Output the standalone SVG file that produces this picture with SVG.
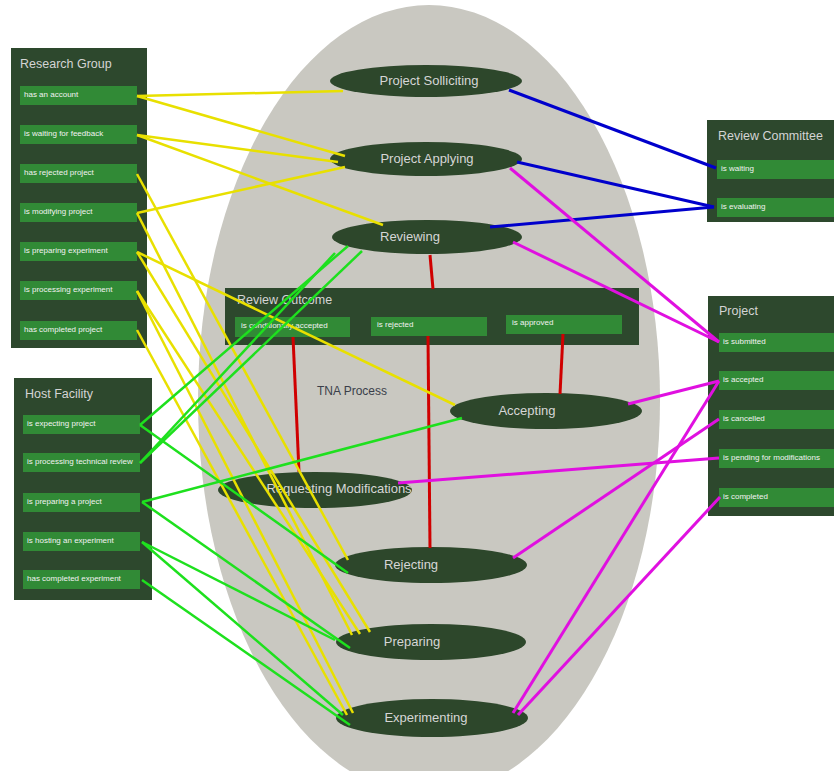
<svg xmlns="http://www.w3.org/2000/svg" width="834" height="771" viewBox="0 0 834 771">
<style>
.panel{fill:#2d482d}
.item{fill:#318a36}
.node{fill:#2d472b}
.title{font-family:"Liberation Sans",Arial,sans-serif;font-size:12.5px;fill:#d4d4d4}
.it{font-family:"Liberation Sans",Arial,sans-serif;font-size:8px;fill:#f2f2f2}
.nl{font-family:"Liberation Sans",Arial,sans-serif;font-size:13px;fill:#d6d6d6;text-anchor:middle}
.y{stroke:#e8e000;stroke-width:2.5;fill:none}
.g{stroke:#1ee01e;stroke-width:2.5;fill:none}
.b{stroke:#0000cc;stroke-width:3;fill:none}
.m{stroke:#e010e0;stroke-width:3;fill:none}
.r{stroke:#d00000;stroke-width:3;fill:none}
</style>
<rect width="834" height="771" fill="#ffffff"/>
<ellipse cx="429" cy="400" rx="231" ry="395" fill="#c9c8c1"/>
<text x="352" y="395" font-family="Liberation Sans,Arial,sans-serif" font-size="12" fill="#3a3f4a" text-anchor="middle">TNA Process</text>

<g id="research-group">
<rect class="panel" x="11" y="48" width="136" height="300"/>
<text class="title" x="20" y="68">Research Group</text>
<rect class="item" x="20" y="86" width="117" height="19"/><text class="it" x="24" y="97">has an account</text>
<rect class="item" x="20" y="125" width="117" height="19"/><text class="it" x="24" y="136">is waiting for feedback</text>
<rect class="item" x="20" y="164" width="117" height="19"/><text class="it" x="24" y="175">has rejected project</text>
<rect class="item" x="20" y="203" width="117" height="19"/><text class="it" x="24" y="214">is modifying project</text>
<rect class="item" x="20" y="242" width="117" height="19"/><text class="it" x="24" y="253">is preparing experiment</text>
<rect class="item" x="20" y="281" width="117" height="19"/><text class="it" x="24" y="292">is processing experiment</text>
<rect class="item" x="20" y="321" width="117" height="19"/><text class="it" x="24" y="332">has completed project</text>
</g>

<g id="host-facility">
<rect class="panel" x="14" y="378" width="138" height="222"/>
<text class="title" x="25" y="398">Host Facility</text>
<rect class="item" x="23" y="415" width="117" height="19"/><text class="it" x="27" y="426">is expecting project</text>
<rect class="item" x="23" y="453" width="117" height="19"/><text class="it" x="27" y="464">is processing technical review</text>
<rect class="item" x="23" y="493" width="117" height="19"/><text class="it" x="27" y="504">is preparing a project</text>
<rect class="item" x="23" y="532" width="117" height="19"/><text class="it" x="27" y="543">is hosting an experiment</text>
<rect class="item" x="23" y="570" width="117" height="19"/><text class="it" x="27" y="581">has completed experiment</text>
</g>

<g id="review-committee">
<rect class="panel" x="707" y="120" width="127" height="102"/>
<text class="title" x="718" y="140">Review Committee</text>
<rect class="item" x="717" y="160" width="117" height="19"/><text class="it" x="721" y="171">is waiting</text>
<rect class="item" x="717" y="198" width="117" height="19"/><text class="it" x="721" y="209">is evaluating</text>
</g>

<g id="project">
<rect class="panel" x="708" y="296" width="126" height="220"/>
<text class="title" x="719" y="315">Project</text>
<rect class="item" x="719" y="333" width="115" height="19"/><text class="it" x="723" y="344">is submitted</text>
<rect class="item" x="719" y="371" width="115" height="19"/><text class="it" x="723" y="382">is accepted</text>
<rect class="item" x="719" y="410" width="115" height="19"/><text class="it" x="723" y="421">is cancelled</text>
<rect class="item" x="719" y="449" width="115" height="19"/><text class="it" x="723" y="460">is pending for modifications</text>
<rect class="item" x="719" y="488" width="115" height="19"/><text class="it" x="723" y="499">is completed</text>
</g>

<g id="review-outcome">
<rect class="panel" x="225" y="288" width="414" height="57"/>
<text class="title" x="237" y="304">Review Outcome</text>
<rect class="item" x="235" y="317" width="115" height="20"/><text class="it" x="241" y="328">is conditionally accepted</text>
<rect class="item" x="371" y="317" width="116" height="19"/><text class="it" x="377" y="327">is rejected</text>
<rect class="item" x="506" y="315" width="116" height="19"/><text class="it" x="512" y="325">is approved</text>
</g>

<g id="project-solliciting"><ellipse class="node" cx="426" cy="81" rx="96" ry="16"/><text class="nl" x="429" y="85">Project Solliciting</text></g>
<g id="project-applying"><ellipse class="node" cx="426" cy="159" rx="96" ry="17"/><text class="nl" x="427" y="163">Project Applying</text></g>
<g id="reviewing"><ellipse class="node" cx="427" cy="237" rx="95" ry="17"/><text class="nl" x="410" y="241">Reviewing</text></g>
<g id="accepting"><ellipse class="node" cx="546" cy="411" rx="96" ry="18"/><text class="nl" x="527" y="415">Accepting</text></g>
<g id="requesting-modifications"><ellipse class="node" cx="315" cy="490" rx="97" ry="18"/><text class="nl" x="339" y="493">Requesting Modifications</text></g>
<g id="rejecting"><ellipse class="node" cx="431" cy="565" rx="96" ry="18"/><text class="nl" x="411" y="569">Rejecting</text></g>
<g id="preparing"><ellipse class="node" cx="431" cy="642" rx="95" ry="18"/><text class="nl" x="412" y="646">Preparing</text></g>
<g id="experimenting"><ellipse class="node" cx="432" cy="718" rx="96" ry="19"/><text class="nl" x="426" y="722">Experimenting</text></g>

<g id="connectors">
<line class="r" x1="430" y1="255" x2="433" y2="289"/>
<line class="r" x1="293" y1="337" x2="299" y2="472"/>
<line class="r" x1="428" y1="336" x2="430" y2="548"/>
<line class="r" x1="563" y1="334" x2="560" y2="394"/>

<line class="y" x1="137" y1="96" x2="343" y2="91"/>
<line class="y" x1="137" y1="96" x2="345" y2="156"/>
<line class="y" x1="137" y1="135" x2="338" y2="162"/>
<line class="y" x1="137" y1="135" x2="383" y2="225"/>
<line class="y" x1="137" y1="213" x2="345" y2="167"/>
<line class="y" x1="137" y1="174" x2="348" y2="560"/>
<line class="y" x1="137" y1="213" x2="352" y2="635"/>
<line class="y" x1="137" y1="252" x2="455" y2="405"/>
<line class="y" x1="137" y1="252" x2="370" y2="632"/>
<line class="y" x1="137" y1="291" x2="360" y2="634"/>
<line class="y" x1="137" y1="291" x2="353" y2="713"/>
<line class="y" x1="137" y1="330" x2="347" y2="715"/>

<line class="g" x1="140" y1="425" x2="348" y2="246"/>
<line class="g" x1="140" y1="463" x2="335" y2="253"/>
<line class="g" x1="140" y1="463" x2="362" y2="251"/>
<line class="g" x1="140" y1="425" x2="348" y2="573"/>
<line class="g" x1="142" y1="502" x2="462" y2="418"/>
<line class="g" x1="142" y1="502" x2="350" y2="648"/>
<line class="g" x1="142" y1="542" x2="335" y2="640"/>
<line class="g" x1="142" y1="542" x2="343" y2="715"/>
<line class="g" x1="142" y1="580" x2="350" y2="725"/>

<line class="b" x1="509" y1="90" x2="716" y2="168"/>
<line class="b" x1="517" y1="162" x2="714" y2="207"/>
<line class="b" x1="714" y1="207" x2="490" y2="227"/>

<line class="m" x1="510" y1="168" x2="719" y2="342"/>
<line class="m" x1="513" y1="242" x2="719" y2="342"/>
<line class="m" x1="628" y1="404" x2="719" y2="381"/>
<line class="m" x1="398" y1="483" x2="719" y2="458"/>
<line class="m" x1="513" y1="558" x2="719" y2="419"/>
<line class="m" x1="513" y1="713" x2="719" y2="381"/>
<line class="m" x1="518" y1="715" x2="720" y2="497"/>
</g>
</svg>
